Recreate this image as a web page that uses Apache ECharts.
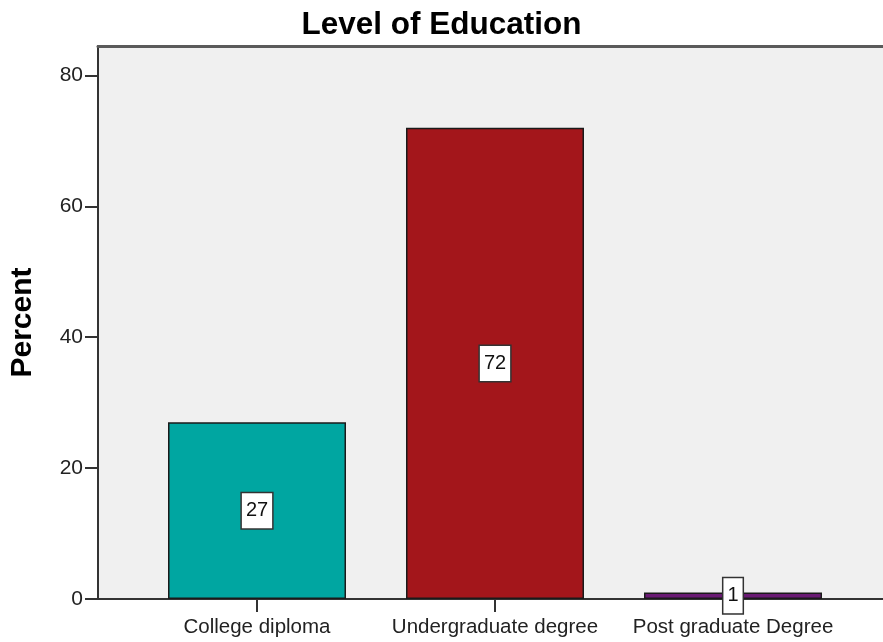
<!DOCTYPE html>
<html>
<head>
<meta charset="utf-8">
<script src="https://cdn.jsdelivr.net/npm/echarts@6/dist/echarts.min.js"></script>
<style>
  html, body { margin: 0; padding: 0; background: #ffffff; }
  #chart { width: 883px; height: 642px; }
</style>
</head>
<body>
<div id="chart"></div>
<script>
// Level of Education — percent of respondents
const categories = ['College diploma', 'Undergraduate degree', 'Post graduate Degree'];
const percentValues = [27, 72, 1];
const barColors = ['#00a6a1', '#a3161b', '#6a1a74'];
const yTicks = [0, 20, 40, 60, 80];

const FONT = '"Liberation Sans", Arial, sans-serif';

// Plot area: open on the right, category slots 238 px apart
const PLOT_LEFT = 98;
const PLOT_WIDTH = 883 - PLOT_LEFT;
const SLOT = 238;
const X_MIN = -159 / SLOT;
const X_MAX = X_MIN + PLOT_WIDTH / SLOT;

const chart = echarts.init(document.getElementById('chart'), null, { renderer: 'canvas' });

chart.setOption({
  animation: false,
  backgroundColor: '#ffffff',
  title: {
    text: 'Level of Education',
    left: 'center',
    top: 9,
    padding: 0,
    textStyle: { fontFamily: FONT, fontSize: 31.5, fontWeight: 'bold', color: '#000' }
  },
  grid: {
    left: PLOT_LEFT,
    top: 46,
    right: 0,
    bottom: 43,
    show: true,
    backgroundColor: '#f0f0f0',
    borderWidth: 0
  },
  xAxis: [{
    type: 'value',
    min: X_MIN,
    max: X_MAX,
    splitLine: { show: false },
    axisLine: { show: true, onZero: false, lineStyle: { color: '#333', width: 2 } },
    axisTick: {
      show: true, length: 13, inside: false,
      customValues: [0, 1, 2],
      lineStyle: { color: '#333', width: 2 }
    },
    axisLabel: {
      customValues: [0, 1, 2],
      margin: 18,
      fontFamily: FONT, fontSize: 20.5, color: '#222',
      formatter: (v) => categories[Math.round(v)]
    }
  }, {
    // top frame line of the plot area
    type: 'value',
    position: 'top',
    min: X_MIN,
    max: X_MAX,
    splitLine: { show: false },
    axisLine: { show: true, onZero: false, lineStyle: { color: '#5a5a5a', width: 3 } },
    axisTick: { show: false },
    axisLabel: { show: false }
  }],
  yAxis: {
    type: 'value',
    min: 0,
    max: 84.5,
    interval: 20,
    name: 'Percent',
    nameLocation: 'middle',
    nameGap: 60,
    nameRotate: 90,
    nameTextStyle: { fontFamily: FONT, fontSize: 30, fontWeight: 'bold', color: '#000' },
    splitLine: { show: false },
    axisLine: { show: true, onZero: false, lineStyle: { color: '#333', width: 2 } },
    axisTick: {
      show: true, length: 13,
      customValues: yTicks,
      lineStyle: { color: '#333', width: 2 }
    },
    axisLabel: {
      customValues: yTicks,
      margin: 15,
      fontFamily: FONT, fontSize: 21, color: '#222'
    }
  },
  series: [{
    type: 'bar',
    xAxisIndex: 0,
    barWidth: 178,
    data: percentValues.map((v, i) => ({
      value: [i, v],
      itemStyle: { color: barColors[i] }
    })),
    itemStyle: { borderColor: '#1a1a1a', borderWidth: 1.5 },
    label: {
      show: true,
      position: 'inside',
      formatter: (p) => String(p.value[1]),
      fontFamily: FONT,
      fontSize: 20,
      color: '#111',
      backgroundColor: '#ffffff',
      borderColor: '#333',
      borderWidth: 1.5,
      padding: [8, 4, 7, 4]
    }
  }]
});
</script>
</body>
</html>
